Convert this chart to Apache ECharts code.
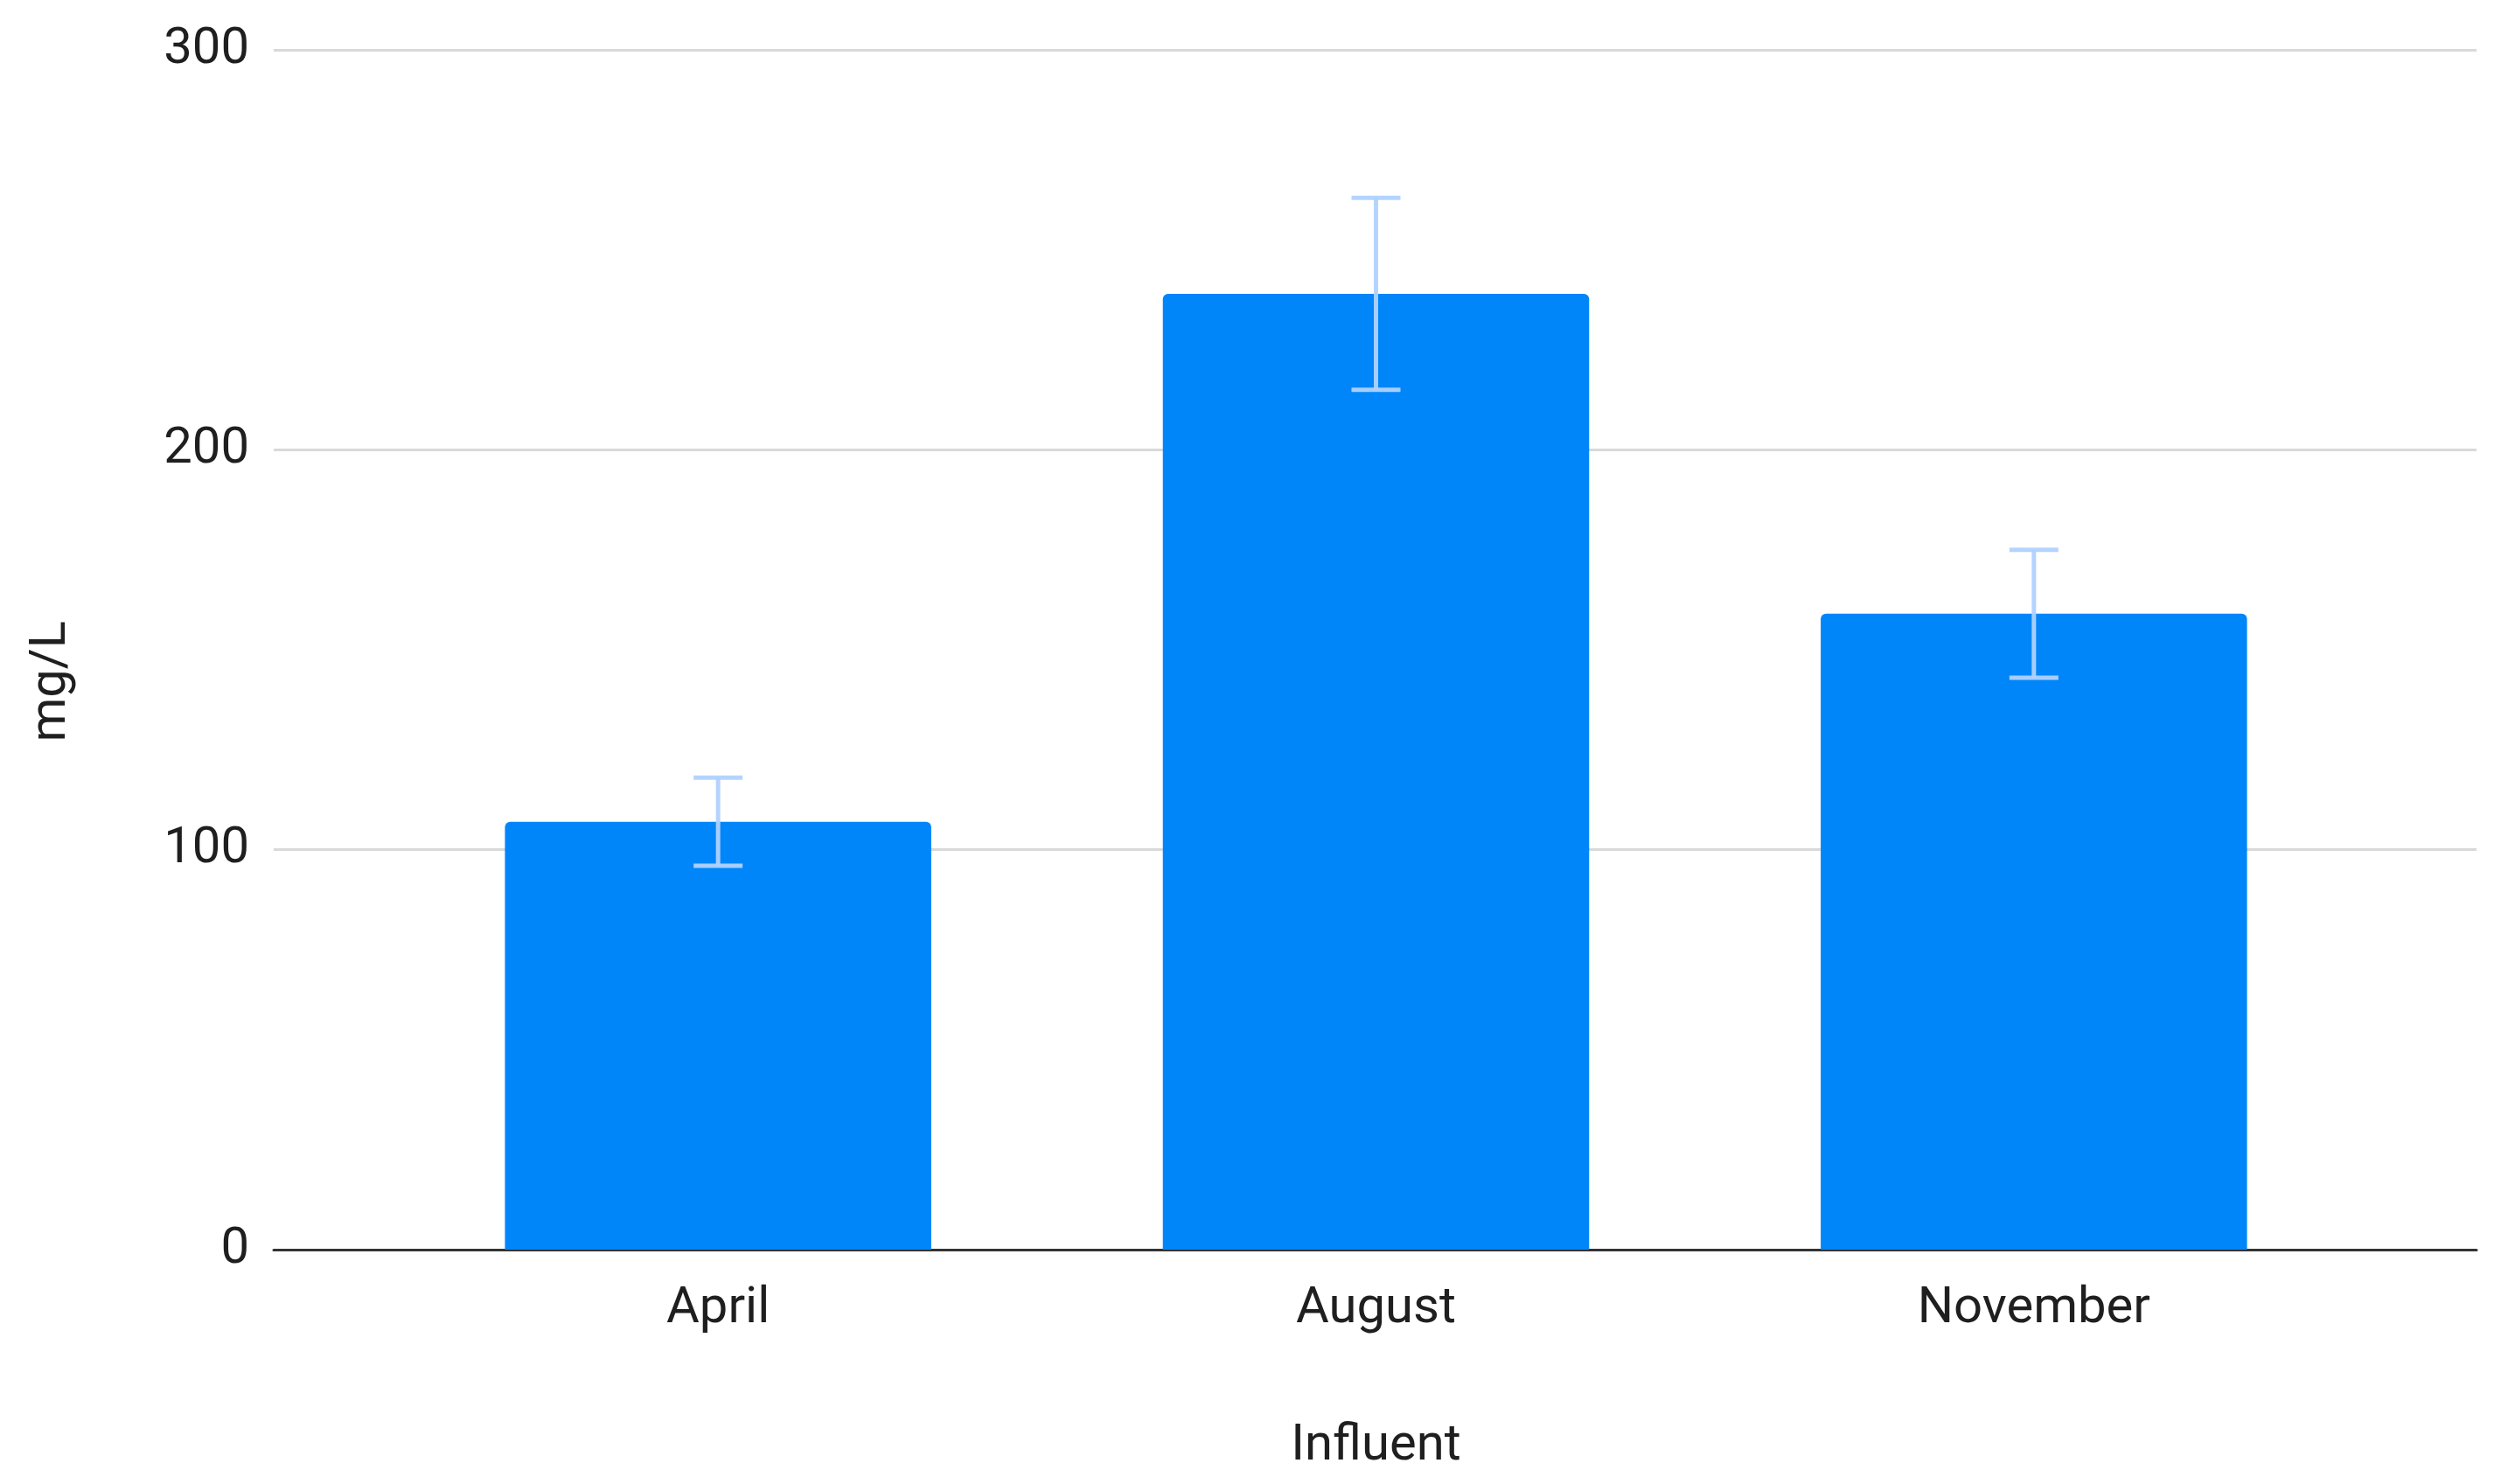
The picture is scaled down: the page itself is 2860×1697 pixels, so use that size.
<!DOCTYPE html>
<html>
<head>
<meta charset="utf-8">
<script src="https://cdn.jsdelivr.net/npm/echarts@6/dist/echarts.min.js"></script>
<style>html,body{margin:0;padding:0;background:#fff}#c{width:2860px;height:1697px}</style>
</head>
<body>
<div id="c"></div>
<script>
const categories = ['April', 'August', 'November'];
const values = [107, 239, 159];
const errors = [11, 24, 16];
const yTicks = [0, 100, 200, 300];
const xTitle = 'Influent';
const yTitle = 'mg/L';

const FONT = 'Roboto';
const TXT = '#1f1f1f';
const chart = echarts.init(document.getElementById('c'));
const errData = categories.map((c, i) => [i, values[i] - errors[i], values[i] + errors[i]]);

chart.setOption({
  animation: false,
  backgroundColor: '#ffffff',
  grid: [
    { left: 313, right: 28, top: 57, bottom: 268 },
    { left: 445, right: 158, top: 57, bottom: 268 }
  ],
  xAxis: [
    { gridIndex: 0, type: 'category', data: categories,
      axisLine: { show: true, lineStyle: { color: '#333333', width: 3 } },
      axisTick: { show: false }, axisLabel: { show: false }, splitLine: { show: false } },
    { gridIndex: 1, type: 'category', data: categories,
      axisLine: { show: false }, axisTick: { show: false },
      axisLabel: { color: TXT, fontFamily: FONT, fontSize: 58, margin: 39 },
      name: xTitle, nameLocation: 'middle', nameGap: 196,
      nameTextStyle: { color: TXT, fontFamily: FONT, fontSize: 58 } }
  ],
  yAxis: [
    { gridIndex: 0, type: 'value', min: yTicks[0], max: yTicks[yTicks.length - 1], interval: 100,
      axisLine: { show: false }, axisTick: { show: false },
      axisLabel: { color: TXT, fontFamily: FONT, fontSize: 58, margin: 28, padding: [14, 0, 0, 0] },
      splitLine: { show: true, lineStyle: { color: '#d9d9d9', width: 3 } } },
    { gridIndex: 1, type: 'value', min: yTicks[0], max: yTicks[yTicks.length - 1], interval: 100,
      show: false, splitLine: { show: false } }
  ],
  graphic: [
    { type: 'text', left: 30, top: 710, rotation: Math.PI / 2,
      style: { text: yTitle, fill: TXT, font: '58px Roboto' } }
  ],
  series: [
    { type: 'bar', xAxisIndex: 1, yAxisIndex: 1, data: values, barWidth: '64.8%',
      itemStyle: { color: '#0086f9', borderRadius: [6, 6, 0, 0] }, z: 2 },
    { type: 'custom', xAxisIndex: 1, yAxisIndex: 1, data: errData, z: 3,
      renderItem: function (params, api) {
        const lo = api.coord([api.value(0), api.value(1)]);
        const hi = api.coord([api.value(0), api.value(2)]);
        const hw = 28;
        const style = { stroke: 'rgba(176,210,255,0.95)', lineWidth: 5 };
        return { type: 'group', children: [
          { type: 'line', shape: { x1: hi[0], y1: hi[1], x2: lo[0], y2: lo[1] }, style: style },
          { type: 'line', shape: { x1: hi[0] - hw, y1: hi[1], x2: hi[0] + hw, y2: hi[1] }, style: style },
          { type: 'line', shape: { x1: lo[0] - hw, y1: lo[1], x2: lo[0] + hw, y2: lo[1] }, style: style }
        ] };
      } }
  ]
});
</script>
</body>
</html>
